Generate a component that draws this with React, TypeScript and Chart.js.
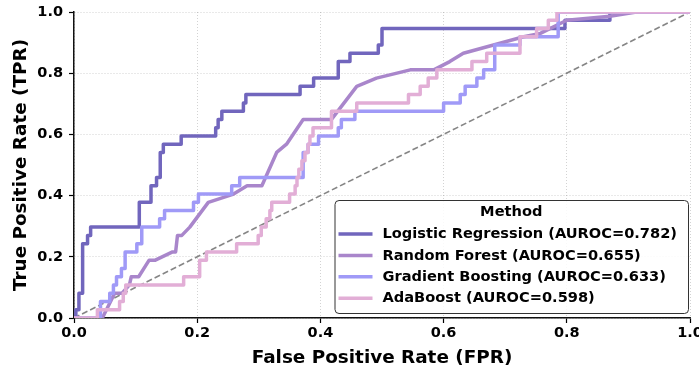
import React, { useEffect, useRef } from "react";
import { Chart, registerables } from "chart.js";

Chart.register(...registerables);

const FONT = "'DejaVu Sans', 'Liberation Sans', sans-serif";

const methods = ["Logistic Regression", "Random Forest", "Gradient Boosting", "AdaBoost"];
const aurocs = [0.782, 0.655, 0.633, 0.598];
const colors = ["#7166bd", "#a986cb", "#a09af7", "#e2aed6"];
const xTicks = [0, 0.2, 0.4, 0.6, 0.8, 1.0];
const yTicks = [0, 0.2, 0.4, 0.6, 0.8, 1.0];
const diagX = [0, 1];
const diagY = [0, 1];

const lrFpr = [0, 0.003, 0.003, 0.008, 0.008, 0.014, 0.014, 0.022, 0.022, 0.027, 0.027, 0.106, 0.106, 0.125, 0.125, 0.134, 0.134, 0.14, 0.14, 0.145, 0.145, 0.174, 0.174, 0.23, 0.23, 0.234, 0.234, 0.24, 0.24, 0.275, 0.275, 0.279, 0.279, 0.367, 0.367, 0.389, 0.389, 0.429, 0.429, 0.448, 0.448, 0.494, 0.494, 0.5, 0.5, 0.797, 0.797, 0.87, 0.87, 1];
const lrTpr = [0, 0, 0.027, 0.027, 0.081, 0.081, 0.243, 0.243, 0.27, 0.27, 0.297, 0.297, 0.378, 0.378, 0.432, 0.432, 0.459, 0.459, 0.541, 0.541, 0.568, 0.568, 0.595, 0.595, 0.622, 0.622, 0.649, 0.649, 0.676, 0.676, 0.703, 0.703, 0.73, 0.73, 0.757, 0.757, 0.784, 0.784, 0.838, 0.838, 0.865, 0.865, 0.892, 0.892, 0.946, 0.946, 0.973, 0.973, 1, 1];

const rfFpr = [0, 0.046, 0.066, 0.078, 0.09, 0.093, 0.105, 0.122, 0.132, 0.16, 0.165, 0.168, 0.175, 0.188, 0.218, 0.259, 0.281, 0.305, 0.329, 0.345, 0.372, 0.418, 0.459, 0.491, 0.546, 0.584, 0.61, 0.632, 0.681, 0.73, 0.757, 0.8, 0.87, 0.913, 1];
const rfTpr = [0, 0, 0.081, 0.081, 0.108, 0.135, 0.135, 0.189, 0.189, 0.216, 0.216, 0.27, 0.27, 0.297, 0.378, 0.405, 0.432, 0.432, 0.541, 0.568, 0.649, 0.649, 0.757, 0.784, 0.811, 0.811, 0.838, 0.865, 0.892, 0.919, 0.93, 0.973, 0.986, 1, 1];

const gbFpr = [0, 0.043, 0.043, 0.058, 0.058, 0.064, 0.064, 0.069, 0.069, 0.077, 0.077, 0.083, 0.083, 0.102, 0.102, 0.11, 0.11, 0.139, 0.139, 0.147, 0.147, 0.194, 0.194, 0.202, 0.202, 0.256, 0.256, 0.269, 0.269, 0.372, 0.372, 0.38, 0.38, 0.397, 0.397, 0.429, 0.429, 0.434, 0.434, 0.456, 0.456, 0.6, 0.6, 0.627, 0.627, 0.635, 0.635, 0.654, 0.654, 0.665, 0.665, 0.683, 0.683, 0.724, 0.724, 0.786, 0.786, 1];
const gbTpr = [0, 0, 0.054, 0.054, 0.081, 0.081, 0.108, 0.108, 0.135, 0.135, 0.162, 0.162, 0.216, 0.216, 0.243, 0.243, 0.297, 0.297, 0.324, 0.324, 0.351, 0.351, 0.378, 0.378, 0.405, 0.405, 0.432, 0.432, 0.459, 0.459, 0.541, 0.541, 0.568, 0.568, 0.595, 0.595, 0.622, 0.622, 0.649, 0.649, 0.676, 0.676, 0.703, 0.703, 0.73, 0.73, 0.757, 0.757, 0.784, 0.784, 0.811, 0.811, 0.892, 0.892, 0.919, 0.919, 1, 1];

const adaFpr = [0, 0.038, 0.038, 0.074, 0.074, 0.08, 0.08, 0.084, 0.084, 0.178, 0.178, 0.204, 0.204, 0.215, 0.215, 0.264, 0.264, 0.299, 0.299, 0.304, 0.304, 0.312, 0.312, 0.318, 0.318, 0.321, 0.321, 0.35, 0.35, 0.359, 0.359, 0.362, 0.362, 0.365, 0.365, 0.37, 0.37, 0.375, 0.375, 0.38, 0.38, 0.383, 0.383, 0.388, 0.388, 0.418, 0.418, 0.459, 0.459, 0.543, 0.543, 0.562, 0.562, 0.575, 0.575, 0.589, 0.589, 0.646, 0.646, 0.67, 0.67, 0.724, 0.724, 0.751, 0.751, 0.77, 0.77, 0.784, 0.784, 1];
const adaTpr = [0, 0, 0.027, 0.027, 0.054, 0.054, 0.081, 0.081, 0.108, 0.108, 0.135, 0.135, 0.189, 0.189, 0.216, 0.216, 0.243, 0.243, 0.27, 0.27, 0.297, 0.297, 0.324, 0.324, 0.351, 0.351, 0.378, 0.378, 0.405, 0.405, 0.432, 0.432, 0.459, 0.459, 0.486, 0.486, 0.514, 0.514, 0.541, 0.541, 0.568, 0.568, 0.595, 0.595, 0.622, 0.622, 0.676, 0.676, 0.703, 0.703, 0.73, 0.73, 0.757, 0.757, 0.784, 0.784, 0.811, 0.811, 0.838, 0.838, 0.865, 0.865, 0.919, 0.919, 0.946, 0.946, 0.973, 0.973, 1, 1];

const curveFpr = [lrFpr, rfFpr, gbFpr, adaFpr];
const curveTpr = [lrTpr, rfTpr, gbTpr, adaTpr];

const toPoints = (xs: number[], ys: number[]) => xs.map((x, i) => ({ x, y: ys[i] }));

const LEGEND_SIZE = 14.6;

const insideLegend = {
  id: "insideLegend",
  afterDraw(chart: any) {
    const ctx: CanvasRenderingContext2D = chart.ctx;
    const area = chart.chartArea;
    const labels = methods.map((m, i) => `${m} (AUROC=${aurocs[i].toFixed(3)})`);
    ctx.save();
    ctx.font = `bold ${LEGEND_SIZE}px ${FONT}`;
    const maxW = Math.max(...labels.map((l) => ctx.measureText(l).width));
    const w = 48 + maxW + 11;
    const h = 113;
    const right = area.right - 2;
    const bottom = area.bottom - 5;
    const x0 = right - w;
    const y0 = bottom - h;
    ctx.beginPath();
    if ((ctx as any).roundRect) (ctx as any).roundRect(x0 + 0.5, y0 + 0.5, w, h, 4);
    else ctx.rect(x0 + 0.5, y0 + 0.5, w, h);
    ctx.fillStyle = "rgba(255,255,255,0.85)";
    ctx.fill();
    ctx.lineWidth = 1;
    ctx.strokeStyle = "#333333";
    ctx.stroke();

    ctx.fillStyle = "#000";
    ctx.textBaseline = "middle";
    ctx.textAlign = "center";
    ctx.fillText("Method", x0 + w / 2, y0 + 12);

    ctx.textAlign = "left";
    labels.forEach((l, i) => {
      const yy = y0 + 34 + i * 21.4;
      ctx.beginPath();
      ctx.moveTo(x0 + 4, yy);
      ctx.lineTo(x0 + 38, yy);
      ctx.lineWidth = 3.5;
      ctx.strokeStyle = colors[i];
      ctx.stroke();
      ctx.fillStyle = "#000";
      ctx.fillText(l, x0 + 48, yy + 0.5);
    });
    ctx.restore();
  },
};

export default function App() {
  const ref = useRef<HTMLCanvasElement | null>(null);

  useEffect(() => {
    if (!ref.current) return;
    const datasets: any[] = methods.map((m, i) => ({
      label: `${m} (AUROC=${aurocs[i].toFixed(3)})`,
      data: toPoints(curveFpr[i], curveTpr[i]),
      borderColor: colors[i],
      backgroundColor: colors[i],
      borderWidth: 3.5,
      pointRadius: 0,
      tension: 0,
      fill: false,
      borderJoinStyle: "round",
      order: 4 - i,
    }));
    datasets.push({
      label: "Chance",
      data: toPoints(diagX, diagY),
      borderColor: "rgba(120,120,120,0.9)",
      borderWidth: 1.6,
      borderDash: [6, 3],
      pointRadius: 0,
      fill: false,
      order: 10,
    });

    const tickFont = { family: FONT, size: 14.5, weight: "bold" as const };
    const titleFont = { family: FONT, size: 18.4, weight: "bold" as const };

    const chart = new Chart(ref.current, {
      type: "line",
      data: { datasets },
      plugins: [insideLegend],
      options: {
        animation: false,
        responsive: false,
        devicePixelRatio: 1,
        layout: { padding: { top: 12, right: 9, left: 0, bottom: 0 } },
        plugins: { legend: { display: false }, tooltip: { enabled: false } },
        scales: {
          x: {
            type: "linear",
            min: 0,
            max: 1,
            afterBuildTicks: (s: any) => {
              s.ticks = xTicks.map((v) => ({ value: v }));
            },
            ticks: {
              callback: (v: any) => Number(v).toFixed(1),
              font: tickFont,
              color: "#000",
              padding: 2,
              maxRotation: 0,
              autoSkip: false,
            },
            grid: {
              color: "rgba(0,0,0,0.22)",
              lineWidth: 0.8,
              drawTicks: true,
              tickLength: 5,
              tickColor: "#000",
              tickWidth: 1.2,
              tickBorderDash: [],
            },
            border: { display: true, color: "#111", width: 1.5, dash: [1, 2] },
            title: {
              display: true,
              text: "False Positive Rate (FPR)",
              font: titleFont,
              color: "#000",
              padding: { top: 0, bottom: 3 },
            },
            afterFit: (s: any) => {
              s.height = 54;
              s.paddingLeft = 0;
              s.paddingRight = 0;
            },
          },
          y: {
            type: "linear",
            min: 0,
            max: 1,
            afterBuildTicks: (s: any) => {
              s.ticks = yTicks.map((v) => ({ value: v }));
            },
            ticks: {
              callback: (v: any) => Number(v).toFixed(1),
              font: tickFont,
              color: "#000",
              padding: 6,
              autoSkip: false,
            },
            grid: {
              color: "rgba(0,0,0,0.22)",
              lineWidth: 0.8,
              drawTicks: true,
              tickLength: 5,
              tickColor: "#000",
              tickWidth: 1.2,
              tickBorderDash: [],
            },
            border: { display: true, color: "#111", width: 1.5, dash: [1, 2] },
            title: {
              display: true,
              text: "True Positive Rate (TPR)",
              font: titleFont,
              color: "#000",
              padding: { top: 10, bottom: 0 },
            },
            afterFit: (s: any) => {
              s.width = 74;
              s.paddingTop = 0;
              s.paddingBottom = 0;
            },
          },
        },
      } as any,
    });
    return () => chart.destroy();
  }, []);

  return (
    <div style={{ position: "fixed", left: 0, top: 0, width: 699, height: 372, background: "#fff" }}>
      <canvas ref={ref} width={699} height={372} style={{ display: "block", width: 699, height: 372 }} />
    </div>
  );
}
